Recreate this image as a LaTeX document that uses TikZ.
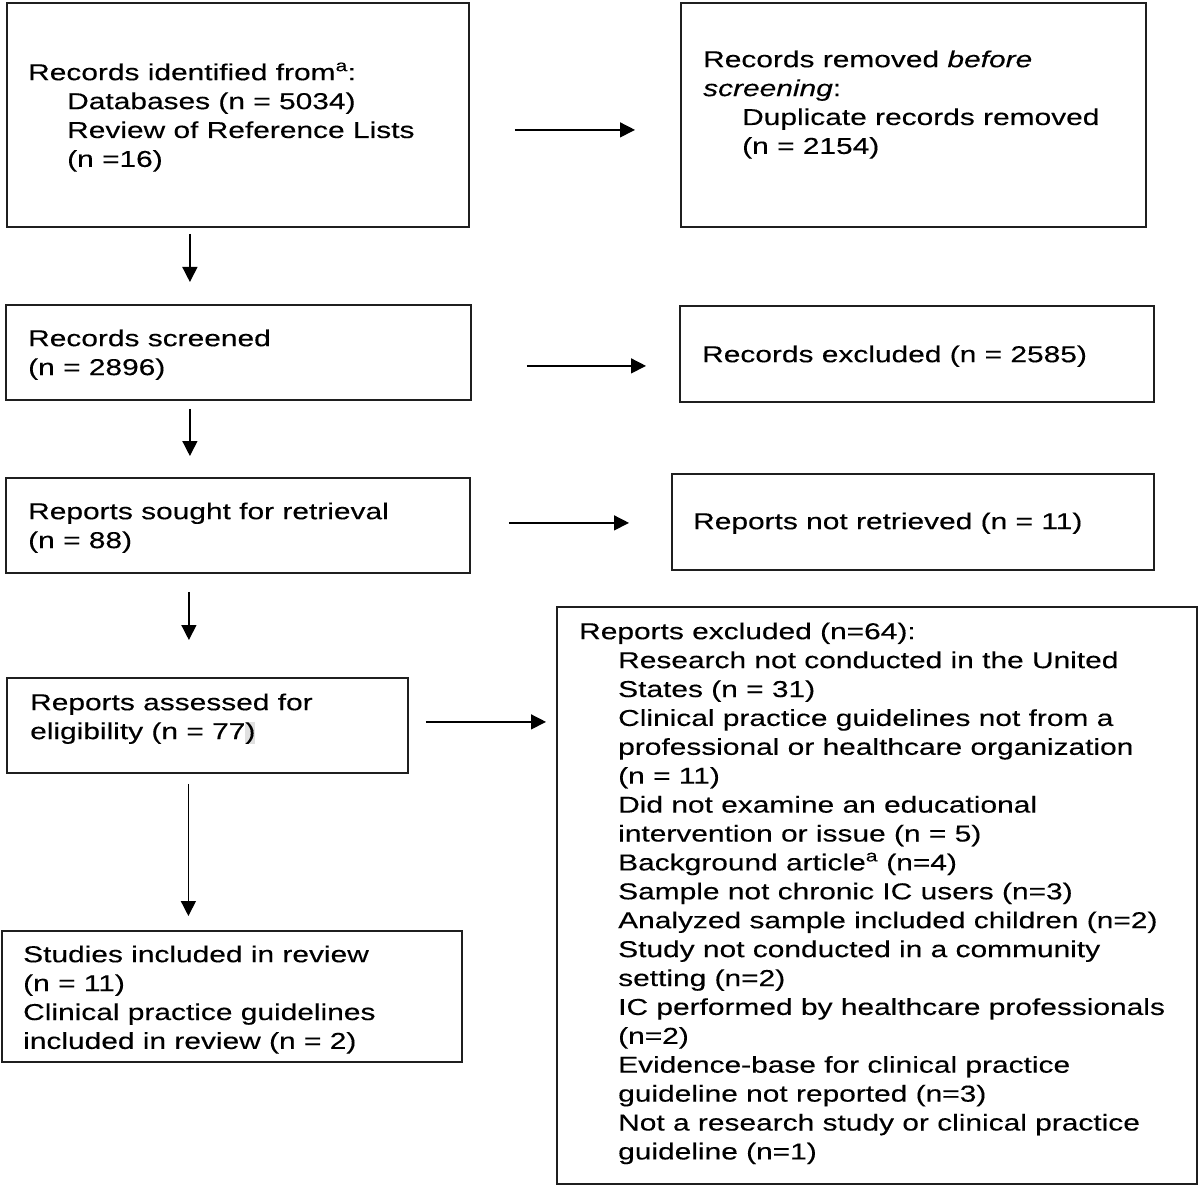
\documentclass[tikz,border=0pt]{standalone}
\usepackage{fontspec}
\setmainfont{Liberation Sans}[FakeStretch=1.30,FakeBold=0.25]
\usetikzlibrary{arrows.meta}
\newcommand\mystrut{\rule{0pt}{18pt}}
\newcommand\ind{\hspace*{39pt}}
\begin{document}
\begin{tikzpicture}[x=1pt,y=-1pt,
  box/.style={draw=black!88, line width=1.8pt, inner sep=0pt, anchor=north west},
  txt/.style={inner sep=0pt, anchor=north west, align=left, font=\fontsize{23}{28.9}\selectfont},
  arr/.style={-{Triangle[length=15pt,width=15pt]}, line width=1.4pt}]
\useasboundingbox (0,0) rectangle (1200,1185);
\fill[white] (0,0) rectangle (1200,1185);
% boxes
\node[box, minimum width=462pt, minimum height=224pt] (A) at (6,2) {};
\node[box, minimum width=465pt, minimum height=224pt] (B) at (680,2) {};
\node[box, minimum width=465pt, minimum height=95pt] (C) at (5,304) {};
\node[box, minimum width=474pt, minimum height=96pt] (D) at (679,305) {};
\node[box, minimum width=464pt, minimum height=95pt] (E) at (5,477) {};
\node[box, minimum width=482pt, minimum height=96pt] (F) at (671,473) {};
\node[box, minimum width=401pt, minimum height=95pt] (G) at (6,677) {};
\node[box, minimum width=640pt, minimum height=577pt] (H) at (556,606) {};
\node[box, minimum width=460pt, minimum height=131pt] (I) at (1,930) {};
% texts
\node[txt] (tA) at (28,62) {\mystrut Records identified from\textsuperscript{a}:\\
\ind Databases (n = 5034)\\
\ind Review of Reference Lists\\
\ind (n =16)};
\node[txt] (tB) at (703,49) {\mystrut Records removed \textit{before}\\
\textit{screening}:\\
\ind Duplicate records removed\\
\ind (n = 2154)};
\node[txt] (tC) at (28,328) {\mystrut Records screened\\(n = 2896)};
\node[txt] (tD) at (702,344) {\mystrut Records excluded (n = 2585)};
\node[txt] (tE) at (28,501) {\mystrut Reports sought for retrieval\\(n = 88)};
\node[txt] (tF) at (693,511) {\mystrut Reports not retrieved (n = 11)};
\node[txt] (tG) at (30,692) {\mystrut Reports assessed for\\eligibility (n = 77{\setlength\fboxsep{0pt}\colorbox{black!12}{)}}};
\node[txt] (tH) at (579,621) {\mystrut Reports excluded (n=64):\\
\ind Research not conducted in the United\\
\ind States (n = 31)\\
\ind Clinical practice guidelines not from a\\
\ind professional or healthcare organization\\
\ind (n = 11)\\
\ind Did not examine an educational\\
\ind intervention or issue (n = 5)\\
\ind Background article\textsuperscript{a} (n=4)\\
\ind Sample not chronic IC users (n=3)\\
\ind Analyzed sample included children (n=2)\\
\ind Study not conducted in a community\\
\ind setting (n=2)\\
\ind IC performed by healthcare professionals\\
\ind (n=2)\\
\ind Evidence-base for clinical practice\\
\ind guideline not reported (n=3)\\
\ind Not a research study or clinical practice\\
\ind guideline (n=1)};
\node[txt] (tI) at (23,944) {\mystrut Studies included in review\\
(n = 11)\\
Clinical practice guidelines\\
included in review (n = 2)};
% connectors
\draw[arr] ([xshift=45pt,yshift=-15pt]A.east) -- ([xshift=-45pt,yshift=-15pt]B.west);
\draw[arr] ([xshift=-48pt,yshift=-6pt]A.south) -- ([xshift=-48.5pt,yshift=22pt]C.north);
\draw[arr] ([xshift=55pt,yshift=-13.5pt]C.east) -- ([xshift=-33pt,yshift=-12pt]D.west);
\draw[arr] ([xshift=-48.5pt,yshift=-8pt]C.south) -- ([xshift=-48pt,yshift=21pt]E.north);
\draw[arr] ([xshift=38pt,yshift=2.5pt]E.east) -- ([xshift=-42pt,yshift=-1pt]F.west);
\draw[arr] ([xshift=-49pt,yshift=-18pt]E.south) -- ([xshift=-18.5pt,yshift=37pt]G.north);
\draw[arr] ([xshift=17pt,yshift=3.5pt]G.east) -- ([xshift=-10pt,yshift=173.5pt]H.west);
\draw[arr] ([xshift=-19pt,yshift=-10pt]G.south) -- ([xshift=-43.5pt,yshift=14pt]I.north);
\end{tikzpicture}
\end{document}
